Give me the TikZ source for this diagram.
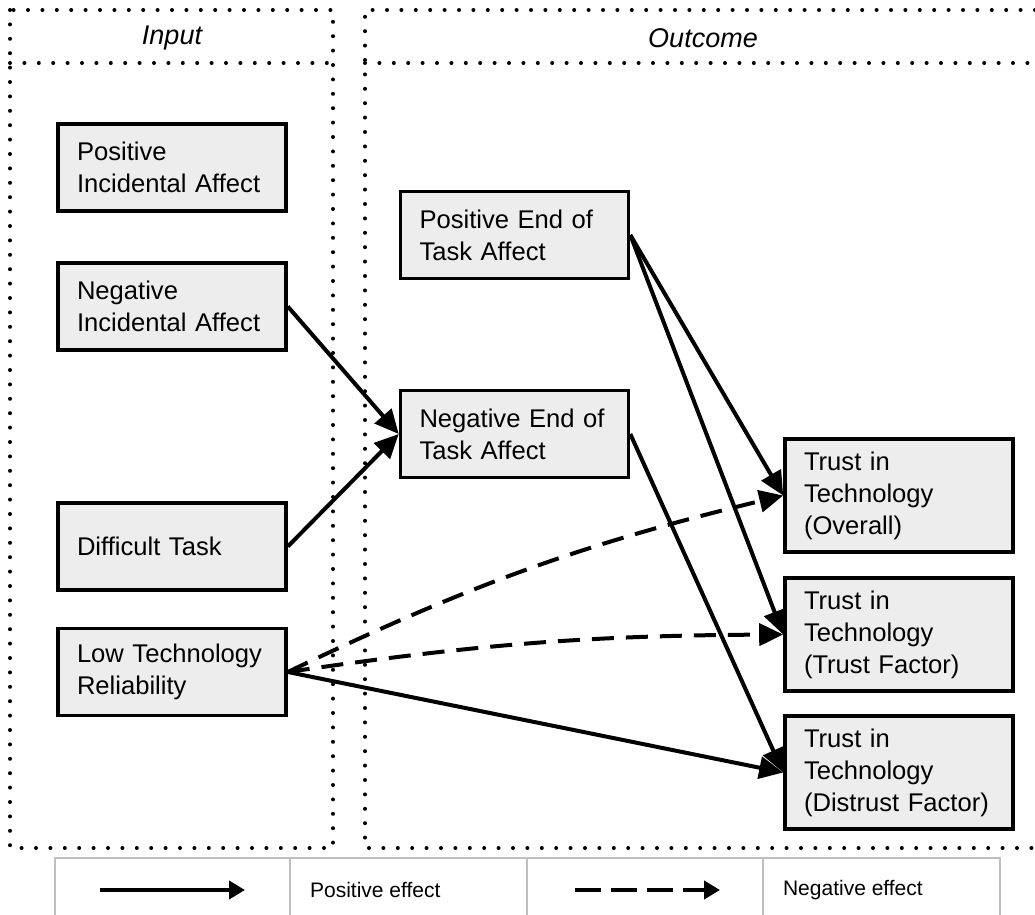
\documentclass[tikz,border=0pt]{standalone}
\usepackage{fontspec}
\setmainfont{Liberation Sans}
\usetikzlibrary{arrows.meta}

\tikzset{
  box/.style={draw, line width=1.8pt, fill=black!7, align=left, text width=95pt,
    inner xsep=9.5pt, minimum height=43.5pt, font=\fontsize{12.8}{16}\selectfont},
  tallbox/.style={box, minimum height=56.5pt},
  poseffect/.style={line width=2pt, -{Triangle[length=12pt,width=11pt]}},
  negeffect/.style={poseffect, dash pattern=on 11pt off 6pt},
  frame/.style={line width=2pt, dash pattern=on 0pt off 7.2pt, line cap=round},
  header/.style={font=\fontsize{13.5}{16}\selectfont\itshape},
  legend/.style={font=\fontsize{10.5}{12}\selectfont, anchor=west},
}

\begin{document}
\begin{tikzpicture}[x=0.5pt, y=-0.5pt]
        \useasboundingbox (0,0) rectangle (1035,915);

        % --- 1. Dotted panels ---
        \draw[frame] (10,10) rectangle (333,848);
        \draw[frame] (10,63) -- (333,63);
        \draw[frame] (1035,10) -| (365,848) -- (1035,848);
        \draw[frame] (365,63) -- (1035,63);
        \node[header] (hin) at (172,38) {Input};
        \node[header] (hout) at (703,38) {Outcome};

        % --- 2. Input factors ---
        \node[box] (pia) at (172,167.5) {Positive\\Incidental Affect};
        \node[box] (nia) at (172,306.5) {Negative\\Incidental Affect};
        \node[box] (dt)  at (172,546.5) {Difficult Task};
        \node[box] (ltr) at (172,672)   {Low Technology\\Reliability};

        % --- 3. Outcomes ---
        \node[box] (peta) at (514.5,235) {Positive End of\\Task Affect};
        \node[box] (neta) at (514.5,434) {Negative End of\\Task Affect};
        \node[tallbox] (tov) at (899,495.5) {Trust in\\Technology\\(Overall)};
        \node[tallbox] (ttf) at (899,634.5) {Trust in\\Technology\\(Trust Factor)};
        \node[tallbox] (tdf) at (899,772.5) {Trust in\\Technology\\(Distrust Factor)};

        % --- 4. Effects ---
        \draw[poseffect] (nia.east) -- (neta.west);
        \draw[poseffect] (dt.east) -- (neta.west);
        \draw[poseffect] (peta.east) -- (tov.west);
        \draw[poseffect] (peta.east) -- (ttf.west);
        \draw[poseffect] (neta.east) -- (tdf.west);
        \draw[poseffect] (ltr.east) -- (tdf.west);
        \draw[negeffect] (ltr.east) to[bend left=6] (tov.west);
        \draw[negeffect] (ltr.east) to[bend left=4] (ttf.west);

        % --- 5. Legend ---
        \draw[black!25, line width=0.7pt] (55,915) |- (1000,858) -- (1000,915);
        \foreach \x in {290,527,763} {
            \draw[black!25, line width=0.7pt] (\x,858) -- (\x,915);
        }
        \coordinate (pa) at (100,890);
        \coordinate (pb) at (245,890);
        \coordinate (na) at (575,890);
        \coordinate (nb) at (720,890);
        \draw[poseffect, -{Triangle[length=8pt,width=9pt]}] (pa) -- (pb);
        \draw[negeffect, dash pattern=on 13pt off 5pt, -{Triangle[length=8pt,width=9pt]}] (na) -- (nb);
        \node[legend] (lpos) at (303,890) {Positive effect};
        \node[legend] (lneg) at (776,890) {Negative effect};

    \end{tikzpicture}
\end{document}
